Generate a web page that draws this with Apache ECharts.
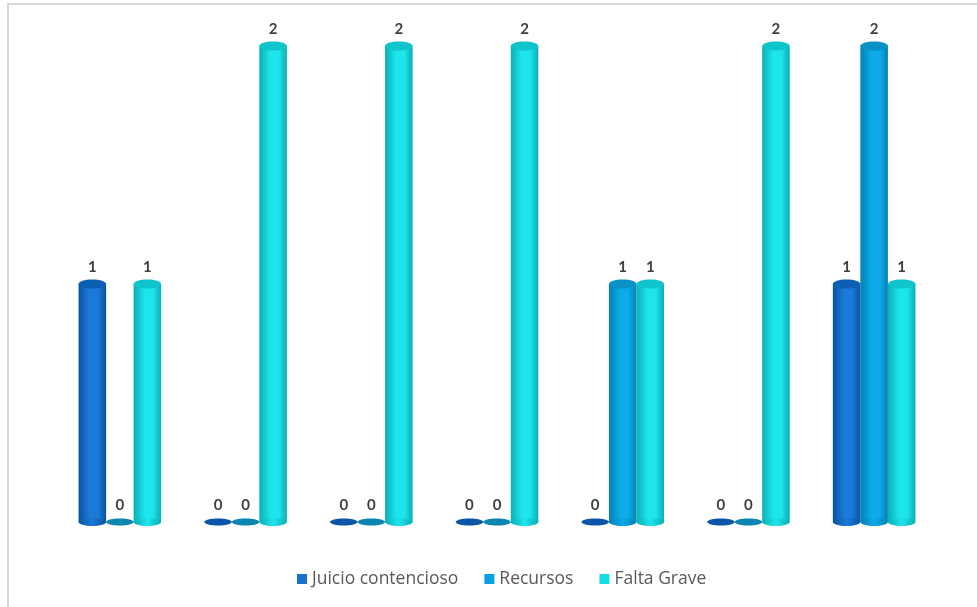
<!DOCTYPE html>
<html>
<head>
<meta charset="utf-8">
<script src="https://cdn.jsdelivr.net/npm/echarts@6/dist/echarts.min.js"></script>
<style>html,body{margin:0;padding:0;background:#fff}#c{width:977px;height:607px}</style>
</head>
<body>
<div id="c"></div>
<script>
var categories = ['G1','G2','G3','G4','G5','G6','G7'];
var juicio = [1,0,0,0,0,0,1];
var recursos = [0,0,0,0,1,0,2];
var falta = [1,2,2,2,1,2,1];
var seriesNames = ['Juicio contencioso','Recursos','Falta Grave'];

var palettes = [
  {legend:'#1772d0', edge:'#0a52a0', mid:'#1b7bd8', top:'#0c5fb3', flat:'#0b56a6'},
  {legend:'#05a3e3', edge:'#0580b2', mid:'#0cabea', top:'#0892c6', flat:'#0a86b0'},
  {legend:'#12dde4', edge:'#0aaeb5', mid:'#1ee5ec', top:'#10c4cb', flat:'#10c4cb'}
];

var chart = echarts.init(document.getElementById('c'));

function makeRender(sIdx){
  var pal = palettes[sIdx];
  return function(params, api){
    var cat = api.value(0), val = api.value(1);
    var base = api.coord([cat, 0]);
    var topPt = api.coord([cat, val]);
    var band = api.size([1, 0])[0];
    var w = band * 0.219;
    var cx = base[0] + (sIdx - 1) * w;
    var x0 = cx - w / 2;
    var ry = 4;
    var children = [];
    if (val > 0) {
      children.push({
        type:'rect',
        shape:{x:x0, y:topPt[1], width:w, height:base[1]-topPt[1]},
        style:{fill:new echarts.graphic.LinearGradient(0,0,1,0,[
          {offset:0,color:pal.edge},{offset:0.4,color:pal.mid},{offset:0.7,color:pal.mid},{offset:1,color:pal.edge}])}
      });
      children.push({
        type:'ellipse',
        shape:{cx:cx, cy:base[1], rx:w/2, ry:ry},
        style:{fill:new echarts.graphic.LinearGradient(0,0,1,0,[
          {offset:0,color:pal.edge},{offset:0.5,color:pal.mid},{offset:1,color:pal.edge}])}
      });
      children.push({
        type:'ellipse',
        shape:{cx:cx, cy:topPt[1], rx:w/2, ry:ry+0.5},
        style:{fill:pal.top}
      });
    } else {
      children.push({
        type:'ellipse',
        shape:{cx:cx, cy:base[1], rx:w/2, ry:ry-0.5},
        style:{fill:pal.flat}
      });
    }
    children.push({
      type:'text',
      style:{text:String(val), x:cx, y:topPt[1]-9, align:'center', verticalAlign:'bottom',
        fill:'#404040', font:'bold 15px Lato, "Noto Sans", sans-serif'}
    });
    return {type:'group', children:children};
  };
}

var datasets = [juicio, recursos, falta];
var series = datasets.map(function(arr, i){
  return {
    type:'custom',
    name: seriesNames[i],
    itemStyle:{color: palettes[i].legend},
    renderItem: makeRender(i),
    encode:{x:0, y:1},
    data: arr.map(function(v, j){ return [j, v]; }),
    clip:false
  };
});

chart.setOption({
  animation:false,
  backgroundColor:'#ffffff',
  graphic:[{
    type:'rect', shape:{x:8, y:4, width:980, height:620},
    style:{fill:'none', stroke:'#d9d9d9', lineWidth:2}, silent:true
  }],
  grid:{left:57, right:40, top:46, bottom:85},
  xAxis:{type:'category', data:categories, show:false},
  yAxis:{type:'value', min:0, max:2, show:false},
  legend:{
    data:seriesNames, bottom:14, left:292, icon:'rect',
    itemWidth:10, itemHeight:10, itemGap:26,
    textStyle:{color:'#595959', fontSize:17.5, fontFamily:'"Open Sans", sans-serif'}
  },
  series:series
});
</script>
</body>
</html>
